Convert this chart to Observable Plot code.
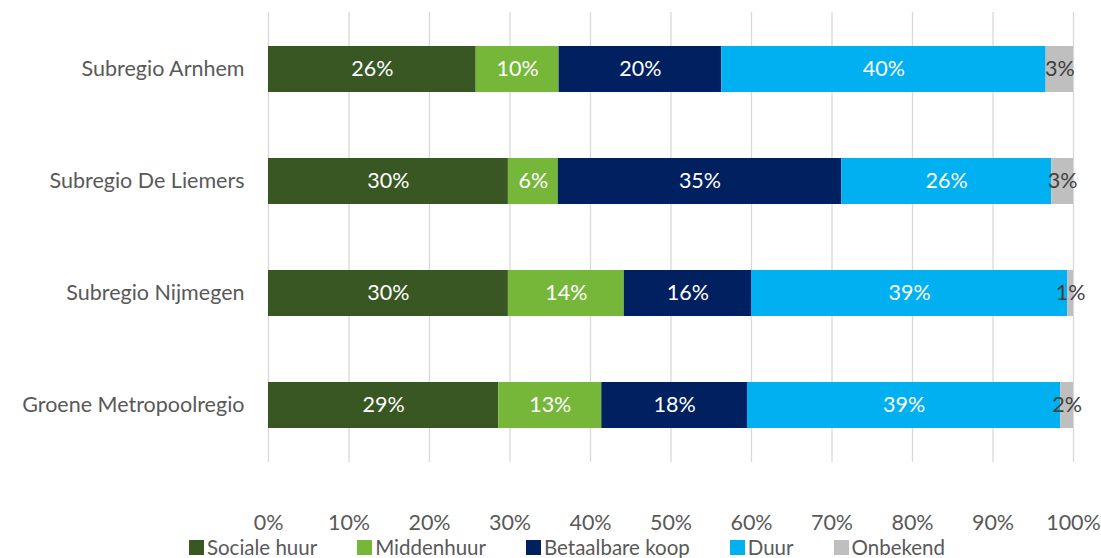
<!DOCTYPE html>
<html>
<head>
<meta charset="utf-8">
<script src="https://cdn.jsdelivr.net/npm/d3@7"></script>
<script src="https://cdn.jsdelivr.net/npm/@observablehq/plot@0.6"></script>
<style>
  html, body { margin: 0; padding: 0; background: #fff; }
  #chart { width: 1101px; }
  .legend { display: flex; justify-content: center; gap: 40px; font-family: Lato, "Open Sans", sans-serif; font-size: 20.5px; color: #595959; height: 22px; line-height: 22px; margin-left: 33px; }
  .legend span.item { display: inline-flex; align-items: center; }
  .legend span.sw { display: inline-block; width: 15px; height: 15px; margin-right: 3px; }
</style>
</head>
<body>
<div id="chart"></div>
<script>
const categories = ["Subregio Arnhem", "Subregio De Liemers", "Subregio Nijmegen", "Groene Metropoolregio"];
const series = ["Sociale huur", "Middenhuur", "Betaalbare koop", "Duur", "Onbekend"];
const colors = ["#385723", "#76B73A", "#002060", "#00B0F0", "#BFBFBF"];
const labelColors = ["#ffffff", "#ffffff", "#ffffff", "#ffffff", "#404040"];
// values per series, in category order
const socialeHuur   = [25.8, 29.8, 29.8, 28.6];
const middenhuur    = [10.3,  6.2, 14.4, 12.8];
const betaalbareKoop= [20.2, 35.2, 15.8, 18.1];
const duur          = [40.3, 26.1, 39.3, 38.9];
const onbekend      = [ 3.4,  2.7,  0.7,  1.6];
const xTicks = [0, 10, 20, 30, 40, 50, 60, 70, 80, 90, 100];

const valuesBySeries = [socialeHuur, middenhuur, betaalbareKoop, duur, onbekend];
const data = [];
categories.forEach((c, i) => {
  series.forEach((s, j) => {
    data.push({cat: c, series: s, value: valuesBySeries[j][i], labelColor: labelColors[j]});
  });
});

const chart = Plot.plot({
  width: 1101,
  height: 536,
  marginLeft: 268,
  marginRight: 28,
  marginTop: 12,
  marginBottom: 74,
  style: {fontFamily: "Lato, 'Open Sans', sans-serif", fontSize: "21.5px", color: "#595959", background: "#fff"},
  x: {domain: [0, 100], ticks: xTicks, tickFormat: d => d + "%", grid: false, label: null},
  y: {domain: categories, label: null, paddingInner: 0.59, paddingOuter: 0.3},
  color: {domain: series, range: colors},
  marks: [
    Plot.ruleX(xTicks, {stroke: "#d9d9d9", strokeWidth: 1.3}),
    Plot.barX(data, Plot.stackX({x: "value", y: "cat", fill: "series"})),
    Plot.text(data, Plot.stackX({x: "value", y: "cat", text: d => Math.round(d.value) + "%", fill: "labelColor", fontSize: 21.5})),
    Plot.axisX({ticks: xTicks, tickFormat: d => d + "%", tickSize: 0, tickPadding: 52, fontSize: 21.5, color: "#595959"}),
    Plot.axisY({tickSize: 0, tickPadding: 24, fontSize: 21.5, color: "#595959"})
  ]
});
document.getElementById("chart").appendChild(chart);

const legend = document.createElement("div");
legend.className = "legend";
series.forEach((s, j) => {
  const item = document.createElement("span");
  item.className = "item";
  const sw = document.createElement("span");
  sw.className = "sw";
  sw.style.background = colors[j];
  item.appendChild(sw);
  item.appendChild(document.createTextNode(s));
  legend.appendChild(item);
});
document.getElementById("chart").appendChild(legend);
</script>
</body>
</html>
